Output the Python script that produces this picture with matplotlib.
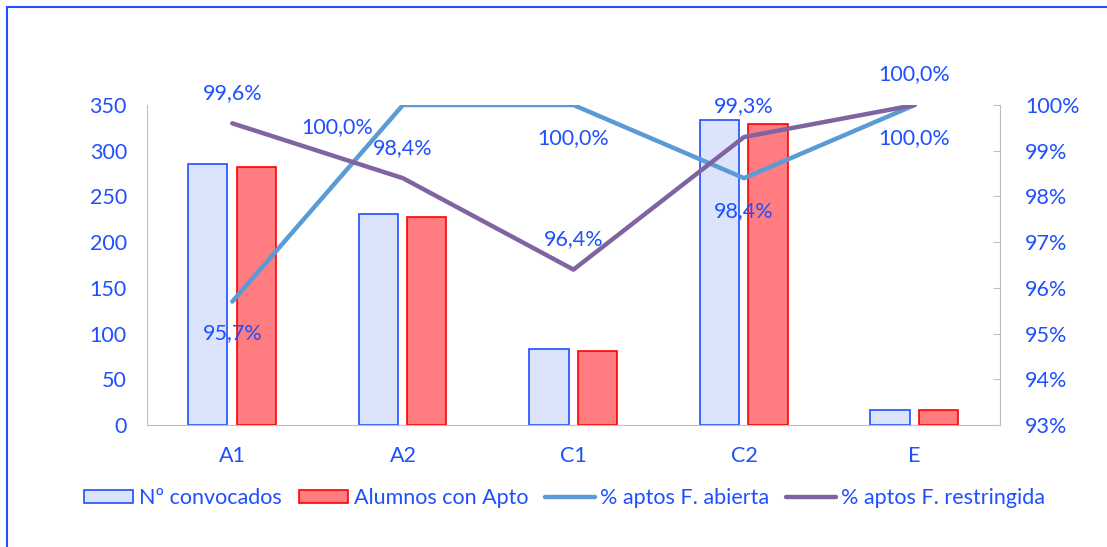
import matplotlib.pyplot as plt
from matplotlib.patches import Rectangle, Patch
from matplotlib.lines import Line2D
from matplotlib.ticker import FuncFormatter
import numpy as np

categories = ["A1", "A2", "C1", "C2", "E"]
convocados = [285, 231, 83, 334, 16]
aptos = [282, 228, 81, 329, 16]
pct_abierta = [95.7, 100.0, 100.0, 98.4, 100.0]
pct_restringida = [99.6, 98.4, 96.4, 99.3, 100.0]

TXT = "#1F4FFF"
GRID = "#BFBFBF"
FS = 15.5
plt.rcParams["font.family"] = ["Lato", "DejaVu Sans"]
plt.rcParams["font.size"] = FS

fig = plt.figure(figsize=(11.07, 5.47), dpi=100)
ax = fig.add_axes([0.1328, 0.223, 0.7705, 0.585])
ax2 = ax.twinx()

x = np.arange(len(categories))
w = 0.23
ax.bar(x - 0.144, convocados, w, color="#DCE4FB", edgecolor="#1F4FFF", linewidth=1.2)
ax.bar(x + 0.14, aptos, w, color="#FF7C80", edgecolor="#FF0000", linewidth=1.2)
ax.set_xlim(-0.5, 4.5)
ax.set_ylim(0, 350)
ax.set_yticks(range(0, 351, 50))
ax.set_xticks(x)
ax.set_xticklabels(categories)

ax2.plot(x, pct_abierta, color="#5B9BD5", lw=3.2, solid_capstyle="round", solid_joinstyle="round")
ax2.plot(x, pct_restringida, color="#8064A2", lw=3.2, solid_capstyle="round", solid_joinstyle="round")
ax2.set_ylim(93, 100)
ax2.set_yticks(range(93, 101))
ax2.yaxis.set_major_formatter(FuncFormatter(lambda v, p: f"{v:.0f}%"))

def fmt(v):
    return f"{v:.1f}%".replace(".", ",")

# abierta labels below, A2 to the left
ab_off = [(0, -32), (-66, -22), (0, -33), (0, -33), (0, -33)]
for xi, v, (dx, dy) in zip(x, pct_abierta, ab_off):
    ax2.annotate(fmt(v), (xi, v), xytext=(dx * 0.72, dy * 0.72), textcoords="offset points",
                 ha="center", va="center", color=TXT)
for xi, v in zip(x, pct_restringida):
    ax2.annotate(fmt(v), (xi, v), xytext=(0, 22), textcoords="offset points",
                 ha="center", va="center", color=TXT)

for a in (ax, ax2):
    for s in a.spines.values():
        s.set_visible(False)
    a.tick_params(colors=TXT, labelsize=FS)
ax.spines["bottom"].set_visible(True)
ax.spines["bottom"].set_color(GRID)
ax.spines["left"].set_visible(True)
ax.spines["left"].set_color(GRID)
ax2.spines["right"].set_visible(True)
ax2.spines["right"].set_color(GRID)
ax.tick_params(axis="both", length=0)
ax.tick_params(axis="x", pad=15)
ax.tick_params(axis="y", pad=14.5)
ax2.tick_params(axis="y", direction="in", length=5, color=GRID, pad=18)

handles = [
    Patch(facecolor="#DCE4FB", edgecolor="#1F4FFF", linewidth=1.2),
    Patch(facecolor="#FF7C80", edgecolor="#FF0000", linewidth=1.2),
    Line2D([], [], color="#5B9BD5", lw=3.2, solid_capstyle="round"),
    Line2D([], [], color="#8064A2", lw=3.2, solid_capstyle="round"),
]
labels = ["Nº convocados", "Alumnos con Apto", "% aptos F. abierta", "% aptos F. restringida"]
leg = fig.legend(handles, labels, loc="center", bbox_to_anchor=(0.51, 0.09), ncol=4,
                 frameon=False, handlelength=2.3, handleheight=0.55, handletextpad=0.25,
                 columnspacing=0.8, fontsize=FS)
for t in leg.get_texts():
    t.set_color(TXT)

fig.patches.append(Rectangle((0.0063, -0.05), 1.1, 1.037, transform=fig.transFigure,
                             fill=False, edgecolor="#1F4FFF", linewidth=1.5))

fig.savefig("out.png", dpi=100)
